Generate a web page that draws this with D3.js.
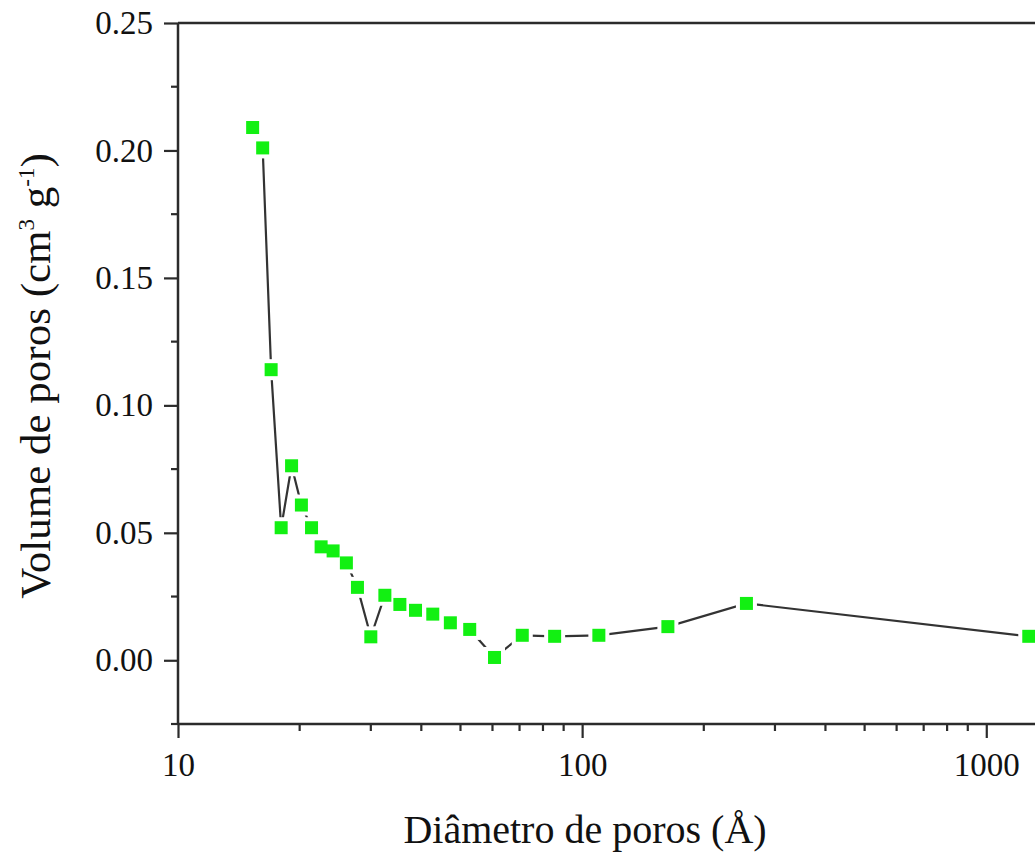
<!DOCTYPE html>
<html>
<head>
<meta charset="utf-8">
<script src="https://cdn.jsdelivr.net/npm/d3@7"></script>
<style>
  html, body { margin: 0; padding: 0; background: #fff; }
  svg { display: block; }
  text { font-family: "Liberation Serif", "DejaVu Serif", serif; fill: #111; }
</style>
</head>
<body>
<div id="chartMain"></div>
<script>
// pore diameter (Å) and pore volume (cm3/g)
const diameters = [15.3, 16.2, 17.0, 18.0, 19.1, 20.2, 21.4, 22.6, 24.2, 26.1, 27.8, 30.0,
                   32.5, 35.4, 38.7, 42.7, 47.2, 52.7, 60.7, 71.1, 85.5, 110, 163, 255, 1274];
const volumes = [0.209, 0.201, 0.114, 0.052, 0.0763, 0.0609, 0.052, 0.0445, 0.0429, 0.0382, 0.0286, 0.0092,
                 0.0255, 0.0219, 0.0196, 0.0181, 0.0147, 0.0121, 0.0011, 0.0098, 0.0094, 0.0098, 0.0132, 0.0223, 0.0094];
const yMajor = [0, 0.05, 0.10, 0.15, 0.20, 0.25];
const yMinor = [-0.025, 0.025, 0.075, 0.125, 0.175, 0.225];
const xMajor = [10, 100, 1000];

const data = diameters.map((d, i) => ({ d: d, v: volumes[i] }));

const W = 1035, H = 853;
const plotLeft = 178, plotRight = 1035, plotTop = 23, plotBottom = 724;

const svg = d3.select('#chartMain')
    .append('svg')
    .attr('width', W)
    .attr('height', H);

// scales
const x = d3.scaleLog()
    .domain([10, 1320])
    .range([plotLeft, plotRight]);

const y = d3.scaleLinear()
    .domain([-0.025, 0.25])
    .range([plotBottom, plotTop]);

const axisColor = '#2b2b2b';

// x axis: major + minor ticks
const xMinor = x.ticks().filter(t => !xMajor.includes(t));

const gx = svg.append('g')
    .attr('transform', `translate(0,${plotBottom})`)
    .call(d3.axisBottom(x).tickValues(xMajor).tickSize(14).tickPadding(15)
        .tickFormat(d3.format('d')));
gx.append('g').selectAll('line').data(xMinor).join('line')
    .attr('x1', d => x(d)).attr('x2', d => x(d))
    .attr('y1', 0).attr('y2', 7);

// y axis
const gy = svg.append('g')
    .attr('transform', `translate(${plotLeft},0)`)
    .call(d3.axisLeft(y).tickValues(yMajor).tickSize(14).tickPadding(11)
        .tickFormat(d3.format('.2f')));
gy.append('g').selectAll('line').data(yMinor).join('line')
    .attr('x1', 0).attr('x2', -7)
    .attr('y1', d => y(d)).attr('y2', d => y(d));

[gx, gy].forEach(g => {
    g.attr('font-family', '"Liberation Serif", serif');
    g.select('.domain').remove();
    g.selectAll('line').attr('stroke', axisColor).attr('stroke-width', 2.2);
    g.selectAll('text').attr('font-size', 33).attr('fill', '#111');
});

// frame lines
svg.append('line')
    .attr('x1', plotLeft).attr('x2', plotRight)
    .attr('y1', plotBottom).attr('y2', plotBottom)
    .attr('stroke', axisColor).attr('stroke-width', 2.5);
svg.append('line')
    .attr('x1', plotLeft).attr('x2', plotLeft)
    .attr('y1', plotTop).attr('y2', plotBottom)
    .attr('stroke', axisColor).attr('stroke-width', 2.5);
svg.append('line')
    .attr('x1', plotLeft).attr('x2', plotRight)
    .attr('y1', plotTop).attr('y2', plotTop)
    .attr('stroke', axisColor).attr('stroke-width', 2.5);

// line through points
const line = d3.line()
    .x(d => x(d.d))
    .y(d => y(d.v));

svg.append('path')
    .datum(data)
    .attr('fill', 'none')
    .attr('stroke', '#333')
    .attr('stroke-width', 2.2)
    .attr('d', line);

// markers with white gap around them
const s = 13;
svg.append('g').selectAll('rect').data(data).join('rect')
    .attr('x', d => x(d.d) - s / 2 - 4)
    .attr('y', d => y(d.v) - s / 2 - 4)
    .attr('width', s + 8).attr('height', s + 8)
    .attr('fill', '#fff');
svg.append('g').selectAll('rect').data(data).join('rect')
    .attr('x', d => x(d.d) - s / 2)
    .attr('y', d => y(d.v) - s / 2)
    .attr('width', s).attr('height', s)
    .attr('fill', '#12f012');

// axis titles
svg.append('text')
    .attr('x', 585)
    .attr('y', 843)
    .attr('text-anchor', 'middle')
    .attr('font-size', 40)
    .text('Diâmetro de poros (Å)');

const yt = svg.append('text')
    .attr('transform', 'translate(50,376) rotate(-90)')
    .attr('text-anchor', 'middle')
    .attr('font-size', 43);
yt.append('tspan').text('Volume de poros (cm');
yt.append('tspan').attr('font-size', 23).attr('dy', -16).text('3');
yt.append('tspan').attr('dy', 16).text(' g');
yt.append('tspan').attr('font-size', 23).attr('dy', -16).text('-1');
yt.append('tspan').attr('dy', 16).text(')');
</script>
</body>
</html>
